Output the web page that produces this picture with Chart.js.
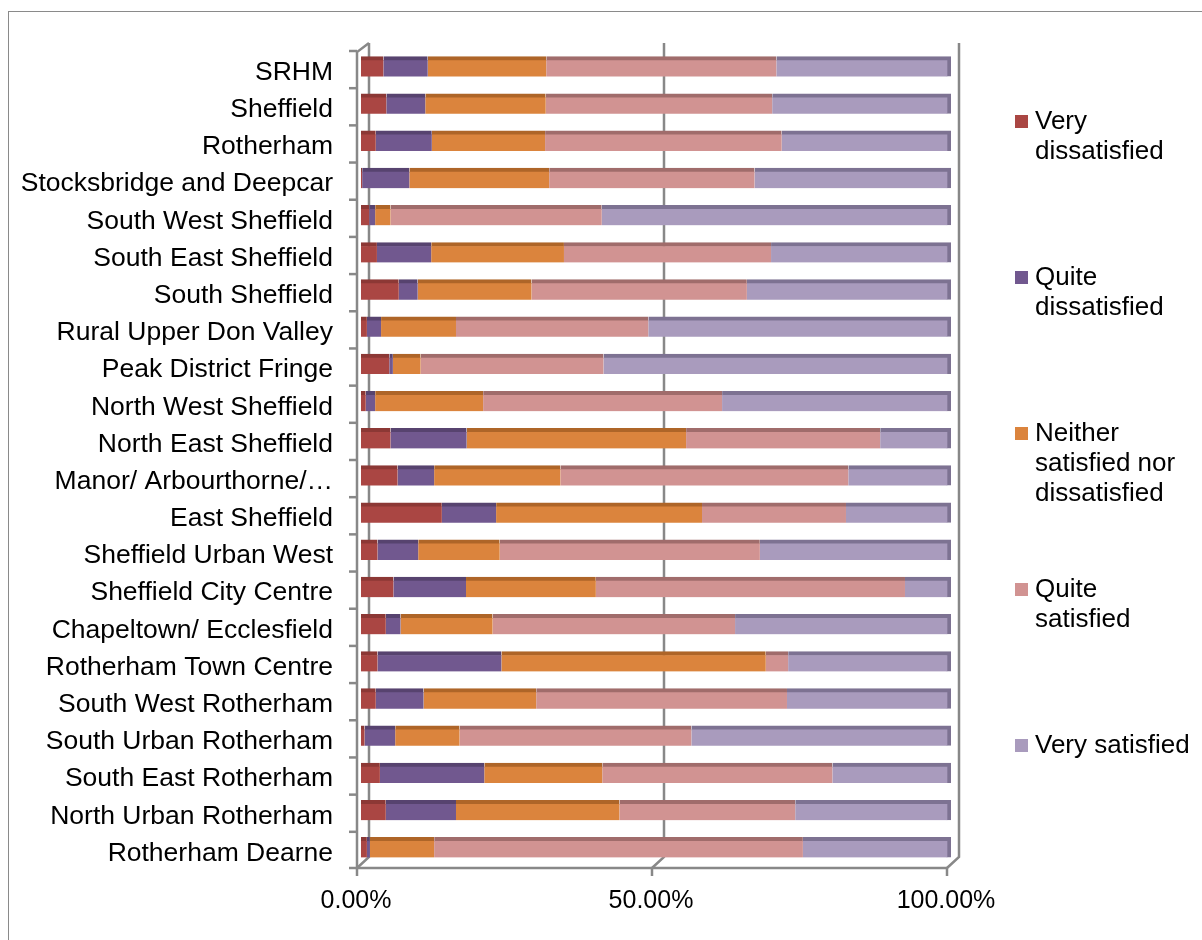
<!DOCTYPE html>
<html>
<head>
<meta charset="utf-8">
<script src="https://cdn.jsdelivr.net/npm/chart.js@4"></script>
<style>
  body { margin: 0; background: #fff; }
  #wrap { position: relative; width: 1202px; height: 940px; overflow: hidden; }
  #frame { position: absolute; left: 8px; top: 11px; width: 1300px; height: 1100px; border: 1px solid #8a8a8a; }
  canvas { position: absolute; left: 0; top: 0; }
  #legend { position: absolute; left: 1015px; top: 105px; font-family: "Liberation Sans", Arial, sans-serif; font-size: 26px; line-height: 30px; color: #000; }
  .item { position: relative; height: 156px; padding-left: 20px; width: 160px; }
  .item span.sw { position: absolute; left: 0; top: 10px; width: 13px; height: 13px; }
</style>
</head>
<body>
<div id="wrap">
  <div id="frame"></div>
  <canvas id="chart" width="1202" height="940"></canvas>
  <div id="legend"></div>
</div>
<script>
// ----- Data -----
var areas = [
  'SRHM', 'Sheffield', 'Rotherham', 'Stocksbridge and Deepcar', 'South West Sheffield',
  'South East Sheffield', 'South Sheffield', 'Rural Upper Don Valley', 'Peak District Fringe',
  'North West Sheffield', 'North East Sheffield', 'Manor/ Arbourthorne/\u2026', 'East Sheffield',
  'Sheffield Urban West', 'Sheffield City Centre', 'Chapeltown/ Ecclesfield', 'Rotherham Town Centre',
  'South West Rotherham', 'South Urban Rotherham', 'South East Rotherham', 'North Urban Rotherham',
  'Rotherham Dearne'
];

var seriesNames = ['Very dissatisfied', 'Quite dissatisfied', 'Neither satisfied nor dissatisfied', 'Quite satisfied', 'Very satisfied'];

var veryDissatisfied  = [3.8, 4.3, 2.5, 0.2, 1.4, 2.7, 6.4, 1.0, 4.8, 0.8, 5.0, 6.2, 13.7, 2.8, 5.5, 4.2, 2.8, 2.5, 0.6, 3.2, 4.2, 1.0];
var quiteDissatisfied = [7.5, 6.6, 9.5, 8.0, 1.0, 9.2, 3.2, 2.4, 0.6, 1.6, 12.9, 6.2, 9.2, 6.9, 12.3, 2.5, 21.0, 8.1, 5.2, 17.7, 11.9, 0.5];
var neither           = [20.1, 20.4, 19.2, 23.7, 2.6, 22.5, 19.3, 12.7, 4.7, 18.3, 37.2, 21.4, 34.9, 13.8, 22.0, 15.6, 44.8, 19.1, 10.9, 20.0, 27.7, 10.9];
var quiteSatisfied    = [39.0, 38.4, 40.1, 34.8, 35.8, 35.1, 36.5, 32.6, 31.0, 40.5, 32.9, 48.8, 24.4, 44.1, 52.4, 41.1, 3.8, 42.5, 39.3, 39.0, 29.8, 62.5];
var verySatisfied     = [29.6, 30.3, 28.7, 33.3, 59.2, 30.5, 34.6, 51.3, 58.9, 38.8, 12.0, 17.4, 17.8, 32.4, 7.8, 36.6, 27.6, 27.8, 44.0, 20.1, 26.4, 25.1];

var xTicks = [0, 50, 100];

var colors    = ['#AA4643', '#71588F', '#DB843D', '#D19392', '#A99BBD'];
var topColors = ['#8C3835', '#57436F', '#AE6528', '#A06C6B', '#7D7292'];

var FONT = '"Liberation Sans", Arial, sans-serif';
var LINE = '#888888';

// ----- 3D-ish frame (back wall lines, front axes, tick marks) -----
var frame3d = {
  id: 'frame3d',
  beforeDatasetsDraw: function(chart) {
    var c = chart.ctx, a = chart.chartArea, xs = chart.scales.x;
    c.save();
    c.strokeStyle = LINE; c.lineWidth = 2.5;
    xTicks.forEach(function(v) {
      var px = xs.getPixelForValue(v);
      c.beginPath();
      c.moveTo(px + 8, a.top - 5);
      c.lineTo(px + 8, a.bottom - 9);
      c.lineTo(px - 4, a.bottom + 2);
      c.stroke();
    });
    c.restore();
  },
  afterDatasetsDraw: function(chart) {
    var c = chart.ctx, a = chart.chartArea, xs = chart.scales.x, ys = chart.scales.y;
    var fx = a.left - 4, fy = a.bottom + 2;
    c.save();
    c.strokeStyle = LINE; c.lineWidth = 2.5;
    // front y axis with top corner
    c.beginPath();
    c.moveTo(a.left + 8, a.top - 5);
    c.lineTo(fx, a.top + 4);
    c.lineTo(fx, fy);
    c.lineTo(xs.getPixelForValue(100) - 4, fy);
    c.stroke();
    // category tick marks
    var half = (ys.getPixelForValue(1) - ys.getPixelForValue(0)) / 2;
    for (var i = 0; i <= areas.length; i++) {
      var y = ys.getPixelForValue(i) - half + 3;
      if (i === areas.length) y = fy;
      c.beginPath(); c.moveTo(fx - 8, y); c.lineTo(fx, y); c.stroke();
    }
    // value tick marks
    xTicks.forEach(function(v) {
      var px = xs.getPixelForValue(v) - 4;
      c.beginPath(); c.moveTo(px, fy); c.lineTo(px, fy + 8); c.stroke();
    });
    c.restore();
  }
};

// ----- Chart -----
var values = [veryDissatisfied, quiteDissatisfied, neither, quiteSatisfied, verySatisfied];
var datasets = seriesNames.map(function(name, i) {
  return {
    label: name,
    data: values[i],
    backgroundColor: colors[i],
    borderColor: topColors[i],
    borderWidth: i === 4 ? { top: 4, right: 4, bottom: 0, left: 0 } : { top: 4, right: 0, bottom: 0, left: 0 },
    borderSkipped: false,
    barThickness: 20
  };
});

new Chart(document.getElementById('chart').getContext('2d'), {
  type: 'bar',
  data: { labels: areas, datasets: datasets },
  plugins: [frame3d],
  options: {
    indexAxis: 'y',
    responsive: false,
    animation: false,
    layout: { padding: { left: 0, right: 251, top: 48, bottom: 0 } },
    plugins: { legend: { display: false }, tooltip: { enabled: false } },
    scales: {
      x: {
        stacked: true, min: 0, max: 100,
        grid: { display: false, drawTicks: false },
        border: { display: false },
        afterFit: function(s) { s.height = 74; },
        ticks: {
          stepSize: 50, padding: 20, labelOffset: -5, color: '#000',
          font: { family: FONT, size: 25 },
          callback: function(v) { return v.toFixed(2) + '%'; }
        }
      },
      y: {
        stacked: true,
        grid: { display: false, drawTicks: false },
        border: { display: false },
        afterFit: function(s) { s.width = 361; },
        ticks: {
          autoSkip: false, padding: 28, labelOffset: 6, color: '#000',
          font: { family: FONT, size: 26.5 }
        }
      }
    }
  }
});

// ----- Legend -----
var lg = document.getElementById('legend');
seriesNames.forEach(function(name, i) {
  var d = document.createElement('div');
  d.className = 'item';
  d.innerHTML = '<span class="sw" style="background:' + colors[i] + '"></span>' + name;
  lg.appendChild(d);
});
</script>
</body>
</html>
